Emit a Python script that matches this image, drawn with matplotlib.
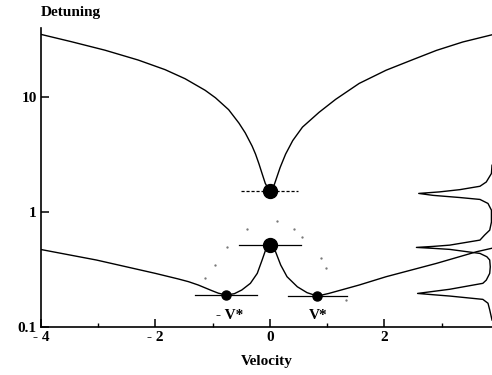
import numpy as np
import matplotlib.pyplot as plt
from matplotlib.ticker import FixedLocator, NullLocator

plt.rcParams.update({'font.family': 'Liberation Serif', 'font.weight': 'bold',
                     'font.size': 11})

# upper branch of the detuning curve
upper_v = [-4.02, -3.47, -2.88, -2.30, -1.83, -1.48, -1.13, -0.95, -0.72,
           -0.54, -0.43, -0.31, -0.25, -0.19, -0.135, -0.08, 0.0, 0.08, 0.18,
           0.275, 0.4, 0.57, 0.86, 1.15, 1.56, 2.03, 2.50, 2.91, 3.37, 3.88]
upper_d = [35.5, 30.5, 25.7, 21.1, 17.4, 14.5, 11.5, 9.9, 7.8,
           5.96, 4.9, 3.76, 3.2, 2.63, 2.16, 1.78, 1.52, 1.75, 2.45,
           3.2, 4.2, 5.5, 7.4, 9.6, 13.2, 17.2, 21.3, 25.6, 30.3, 35.0]

# lower branch
lower_v = [-4.04, -3.03, -2.0, -1.6, -1.42, -1.25, -1.01, -0.9, -0.76, -0.62,
           -0.49, -0.34, -0.22, -0.135, -0.075, 0.0, 0.1, 0.19, 0.3, 0.48,
           0.65, 0.83, 1.03, 1.56, 2.03, 2.91, 3.61, 3.88]
lower_d = [0.477, 0.383, 0.293, 0.262, 0.248, 0.232, 0.207, 0.197, 0.19, 0.195,
           0.21, 0.24, 0.293, 0.383, 0.467, 0.516, 0.452, 0.346, 0.274, 0.224,
           0.199, 0.186, 0.196, 0.232, 0.274, 0.358, 0.452, 0.485]

# dotted arch
arch_v = [-1.13, -0.95, -0.74, -0.40, 0.12, 0.42, 0.56, 0.89, 0.98, 1.33]
arch_d = [0.267, 0.345, 0.499, 0.711, 0.835, 0.711, 0.606, 0.398, 0.326, 0.172]

# stationary points with their velocity spread
point_v = [0.0, 0.0, -0.76, 0.83]
point_d = [1.52, 0.516, 0.19, 0.186]
point_spread = [0.5, 0.54, 0.54, 0.52]
point_size = [10, 10, 6.5, 6.5]

# spectrum drawn along the detuning axis
profile_d = [2.56, 2.17, 1.83, 1.68, 1.57, 1.50, 1.455, 1.40, 1.34, 1.29,
             1.19, 1.04, 0.819,
             0.697, 0.631, 0.571, 0.516, 0.503, 0.493, 0.484, 0.474, 0.437,
             0.409, 0.383, 0.334,
             0.293, 0.256, 0.24, 0.213, 0.204, 0.196, 0.191, 0.186, 0.174,
             0.161, 0.141, 0.115]
profile_x = [3.88, 3.87, 3.78, 3.67, 3.32, 2.96, 2.60, 2.85, 3.32, 3.67,
             3.81, 3.87, 3.87,
             3.84, 3.75, 3.67, 3.14, 2.85, 2.56, 2.85, 3.14, 3.67,
             3.79, 3.84, 3.85,
             3.84, 3.78, 3.72, 3.14, 2.85, 2.58, 2.85, 3.14, 3.72,
             3.81, 3.84, 3.88]

fig = plt.figure(figsize=(4.92, 3.75), dpi=100)
ax = fig.add_axes([0.083, 0.128, 0.917, 0.797])

ax.plot(upper_v, upper_d, color='black', lw=1.0)
ax.plot(lower_v, lower_d, color='black', lw=1.0)
ax.plot(arch_v, arch_d, ls='none', marker='.', ms=1.3, color='0.45')
ax.plot(profile_x, profile_d, color='black', lw=1.0)

for i, (v, d, s, m) in enumerate(zip(point_v, point_d, point_spread, point_size)):
    style = (0, (2.5, 1.5)) if i == 0 else '-'
    ax.plot([v - s, v + s], [d, d], color='black', lw=0.9, ls=style)
    ax.plot(v, d, 'o', color='black', ms=m)

ax.text(-0.7, 0.125, '- V*', ha='center', va='center', fontsize=11)
ax.text(0.85, 0.125, 'V*', ha='center', va='center', fontsize=11)

ax.set_yscale('log')
ax.set_xlim(-4.0, 3.88)
ax.set_ylim(0.1, 40)

ax.xaxis.set_major_locator(FixedLocator([-4, -2, 0, 2]))
ax.xaxis.set_minor_locator(FixedLocator([-3, -1, 1, 3]))
ax.set_xticklabels(['- 4', '- 2', '0', '2'])
ax.yaxis.set_major_locator(FixedLocator([0.1, 1, 10]))
ax.yaxis.set_minor_locator(NullLocator())
ax.set_yticklabels(['0.1', '1', '10'])
ax.tick_params(direction='in', length=6, width=1.1, labelsize=11, pad=3)
ax.tick_params(which='minor', direction='in', length=3, width=1.0)

for side in ['top', 'right']:
    ax.spines[side].set_visible(False)
for side in ['left', 'bottom']:
    ax.spines[side].set_linewidth(1.2)

ax.set_xlabel('Velocity', fontsize=11, fontweight='bold', labelpad=8)
fig.text(0.083, 0.985, 'Detuning', ha='left', va='top', fontsize=11)

fig.savefig('out.png', dpi=100)
